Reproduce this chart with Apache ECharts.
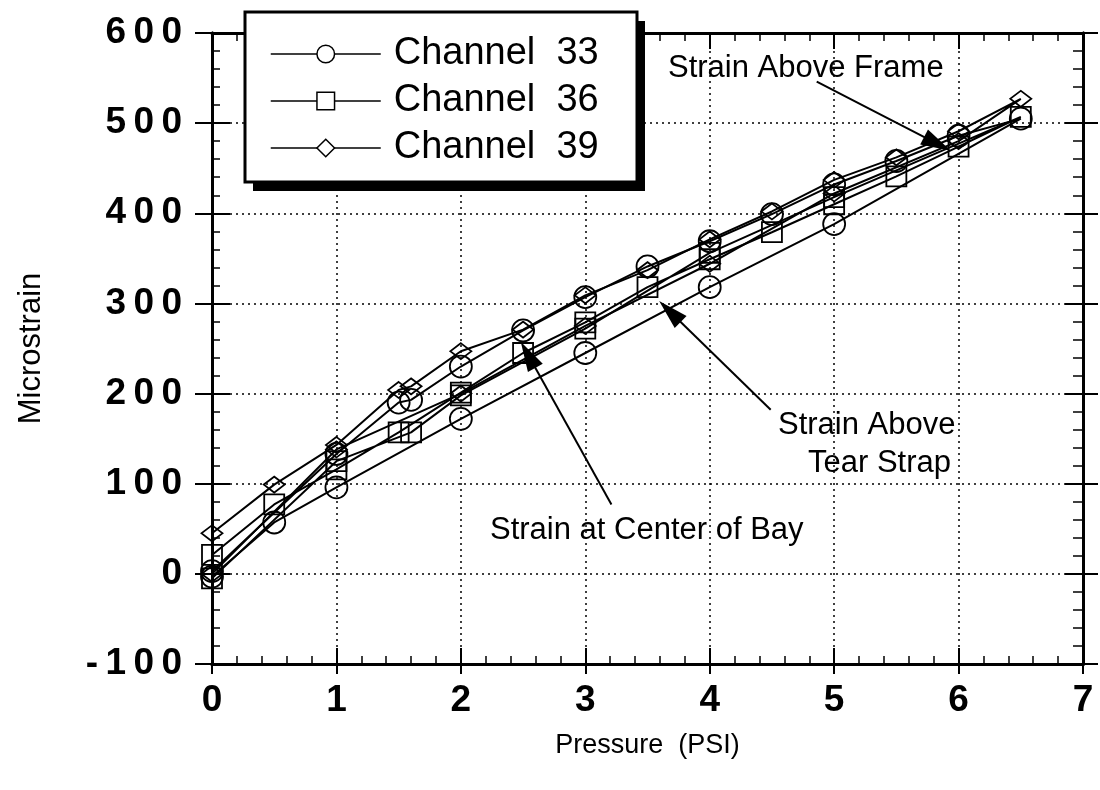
<!DOCTYPE html>
<html>
<head>
<meta charset="utf-8">
<script src="https://cdn.jsdelivr.net/npm/echarts@6/dist/echarts.min.js"></script>
<style>html,body{margin:0;padding:0;background:#fff}#c{width:1100px;height:790px}</style>
</head>
<body>
<div id="c"></div>
<script>
// ---- data (pressure PSI, microstrain) : loading then unloading path ----
const ch33 = [[0,-3],[0.5,57],[1,96],[2,172],[3,245],[4,318],[5,388],[6.5,505],[6,486],[5.5,458],[5,432],[4.5,399],[4,369],[3.5,341],[3,307],[2.5,270],[2,230],[1.6,193],[1.5,190],[1,133],[0,3]];
const ch36 = [[0,21],[0.5,77],[1,116],[1.5,157],[2,201],[2.5,245],[3,279],[3.5,318],[4,349],[4.5,379],[5,410],[5.5,441],[6,474],[6.5,507],[5,418],[4,356],[3,272],[2,198],[1.6,157],[1,125],[0,-5]];
const ch39 = [[0,45],[0.5,99],[1,143],[1.5,204],[1.6,208],[2,247],[2.5,271],[3,309],[3.5,337],[4,371],[4.5,402],[5,437],[5.5,462],[6,491],[6.5,527],[6,480],[5,422],[4,344],[3,275],[2,200],[1,138],[0,0]];
const seriesNames = ['Channel  33','Channel  36','Channel  39'];
const xTicks = {min:0, max:7, step:1};
const yTicks = {min:-100, max:600, step:100};
// annotation arrows: [from, to] in data coordinates
const arrowFrame  = [[4.86,546],[5.83,477]];
const arrowTear   = [[4.49,182],[3.68,291]];
const arrowCenter = [[3.21,77],[2.54,243]];
const annoTexts = ['Strain Above Frame','Strain Above','Tear Strap','Strain at Center of Bay'];

const FONT = 'Liberation Sans';
const chart = echarts.init(document.getElementById('c'), null, {renderer:'canvas'});

const spaced = v => String(v).split('').join('\u2009');
const blank = {show:false};
const tickLine = {color:'#000', width:2};

function xAxisBase(extra){
  return Object.assign({type:'value', min:xTicks.min, max:xTicks.max, interval:xTicks.step,
    axisLine:{show:true, onZero:false, lineStyle:{color:'#000', width:3}},
    axisLabel:blank, splitLine:blank}, extra);
}
function yAxisBase(extra){
  return Object.assign({type:'value', min:yTicks.min, max:yTicks.max, interval:yTicks.step,
    axisLine:{show:true, onZero:false, lineStyle:{color:'#000', width:3}},
    axisLabel:blank, splitLine:blank}, extra);
}

const markerStyle = {color:'rgba(0,0,0,0)', borderColor:'#000', borderWidth:1.8};
function mkSeries(name, data, symbol, size){
  return {name, type:'line', data, symbol, symbolSize:size, xAxisIndex:0, yAxisIndex:0,
    lineStyle:{color:'#000', width:2}, itemStyle:markerStyle, emphasis:{disabled:true},
    animation:false, z:3};
}
function arrow(a){
  return [{coord:a[0], symbol:'none'},{coord:a[1], symbol:'triangle', symbolSize:[17,30]}];
}

const option = {
  backgroundColor:'#fff',
  animation:false,
  grid:{left:212, right:17, top:33, bottom:126, containLabel:false},
  xAxis:[
    xAxisBase({position:'bottom',
      axisTick:{show:true, inside:false, length:10, lineStyle:tickLine},
      axisLabel:{show:true, margin:18, fontFamily:FONT, fontWeight:'bold', fontSize:37, color:'#000'},
      splitLine:{show:true, lineStyle:{color:'#000', width:1.5, type:[2,4]}},
      name:'Pressure  (PSI)', nameLocation:'middle', nameGap:68,
      nameTextStyle:{fontFamily:FONT, fontSize:27, color:'#000'}}),
    xAxisBase({position:'bottom',
      axisTick:{show:true, inside:true, length:16, lineStyle:tickLine},
      minorTick:{show:true, splitNumber:5, length:8, lineStyle:{color:'#000', width:1.5}}}),
    xAxisBase({position:'top',
      axisTick:{show:true, inside:true, length:16, lineStyle:tickLine},
      minorTick:{show:true, splitNumber:5, length:8, lineStyle:{color:'#000', width:1.5}}})
  ],
  yAxis:[
    yAxisBase({position:'left',
      axisTick:{show:true, inside:false, length:17, lineStyle:tickLine},
      axisLabel:{show:true, margin:30, fontFamily:FONT, fontWeight:'bold', fontSize:37, color:'#000', formatter:spaced},
      splitLine:{show:true, lineStyle:{color:'#000', width:1.5, type:[2,4]}},
      name:'Microstrain', nameLocation:'middle', nameGap:165, nameRotate:90,
      nameTextStyle:{fontFamily:FONT, fontSize:31, color:'#000'}}),
    yAxisBase({position:'left',
      axisTick:{show:true, inside:true, length:18, lineStyle:tickLine},
      minorTick:{show:true, splitNumber:5, length:8, lineStyle:{color:'#000', width:1.5}}}),
    yAxisBase({position:'right',
      axisTick:{show:true, inside:true, length:18, lineStyle:tickLine},
      minorTick:{show:true, splitNumber:5, length:10, lineStyle:{color:'#000', width:1.5}}}),
    yAxisBase({position:'right',
      axisTick:{show:true, inside:false, length:15, lineStyle:tickLine}})
  ],
  legend:{
    data:seriesNames, orient:'vertical', left:265, top:30, z:10,
    itemWidth:110, itemHeight:22, itemGap:9,
    textStyle:{fontFamily:FONT, fontSize:38, color:'#000', lineHeight:38, padding:[0,0,0,8]},
    itemStyle:{color:'#fff', borderColor:'#000', borderWidth:1.5},
    lineStyle:{color:'#000', width:1.5},
    selectedMode:false
  },
  graphic:[
    {type:'rect', z:8, shape:{x:253, y:21, width:392, height:170}, style:{fill:'#000'}},
    {type:'rect', z:9, shape:{x:245, y:12, width:392, height:170}, style:{fill:'#fff', stroke:'#000', lineWidth:3}},
    {type:'text', z:9, left:668, top:53, style:{text:annoTexts[0], fontFamily:FONT, fontSize:31, fill:'#000'}},
    {type:'text', z:9, left:778, top:410, style:{text:annoTexts[1], fontFamily:FONT, fontSize:31, fill:'#000'}},
    {type:'text', z:9, left:808, top:448, style:{text:annoTexts[2], fontFamily:FONT, fontSize:31, fill:'#000'}},
    {type:'text', z:9, left:490, top:515, style:{text:annoTexts[3], fontFamily:FONT, fontSize:31, fill:'#000'}}
  ],
  series:[
    mkSeries(seriesNames[0], ch33, 'circle', 22),
    mkSeries(seriesNames[1], ch36, 'rect', 20),
    mkSeries(seriesNames[2], ch39, 'diamond', [21,16]),
    {name:'arrows', type:'line', data:[], xAxisIndex:0, yAxisIndex:0, silent:true,
      markLine:{silent:true, animation:false, label:{show:false},
        lineStyle:{color:'#000', width:2, type:'solid'},
        itemStyle:{color:'#000'},
        emphasis:{disabled:true},
        data:[arrow(arrowFrame), arrow(arrowTear), arrow(arrowCenter)]}}
  ]
};
chart.setOption(option);
</script>
</body>
</html>
